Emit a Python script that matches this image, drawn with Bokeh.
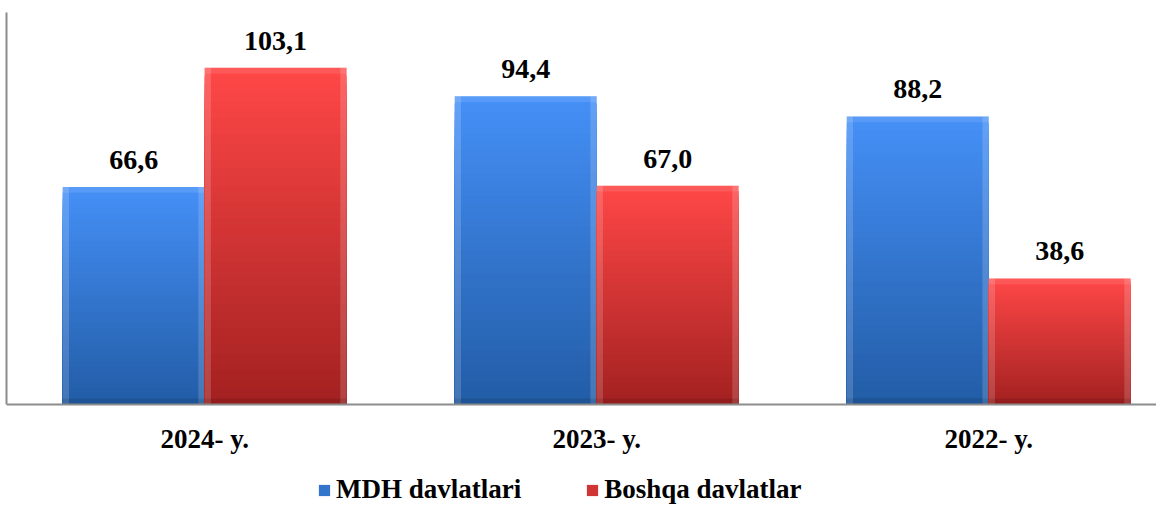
import numpy as np
from bokeh.plotting import figure
from bokeh.models import ColumnDataSource, Range1d, Legend, LegendItem, Span
from bokeh.core.properties import value
from bokeh.embed import file_html
from bokeh.resources import INLINE

# ---- data ----
categories = ["2024- y.", "2023- y.", "2022- y."]
mdh = [66.6, 94.4, 88.2]
boshqa = [103.1, 67.0, 38.6]
series_names = ["MDH davlatlari", "Boshqa davlatlar"]

# ---- styles ----
FONT = value("Liberation Serif")
BLUE_TOP, BLUE_BOT = (0x45, 0x90, 0xF7), (0x22, 0x5C, 0xA6)
RED_TOP, RED_BOT = (0xFF, 0x47, 0x47), (0xA3, 0x21, 0x21)
N = 40
BAR_W = 0.362
OFF = 0.181

# frame extends below the baseline to leave room for category labels and legend
p = figure(frame_width=1150, frame_height=493, output_backend="svg",
           toolbar_location=None, x_axis_location=None,
           x_range=Range1d(-0.0054, 2.928), y_range=Range1d(-30.92, 120),
           min_border_left=0, min_border_right=0, min_border_top=12,
           min_border_bottom=0)
p.outline_line_color = None
p.xgrid.visible = False
p.ygrid.visible = False
p.background_fill_color = "white"
p.border_fill_color = "white"

centers = np.arange(len(categories)) + 0.5


def hexc(rgb):
    return "#%02x%02x%02x" % tuple(int(round(c)) for c in rgb)


def gradient_bars(vals, dx, top_rgb, bot_rgb):
    xs, tops, cols = [], [], []
    # tallest slice first, each shorter slice painted over it -> no seams
    for k in range(N - 1, -1, -1):
        f = (k + 0.5) / N
        col = hexc([b + (t - b) * f for t, b in zip(top_rgb, bot_rgb)])
        for i, v in enumerate(vals):
            xs.append(centers[i] + dx)
            tops.append(v * (k + 1) / N)
            cols.append(col)
    src = ColumnDataSource(dict(x=xs, top=tops, color=cols))
    r = p.vbar(x="x", bottom=0, top="top", width=BAR_W, source=src,
               fill_color="color", line_color=None)
    # bevel highlights
    xv = centers + dx
    edge = 0.016
    p.vbar(x=xv - BAR_W / 2 + edge / 2, bottom=0, top=vals, width=edge,
           fill_color="white", fill_alpha=0.16, line_color=None)
    p.vbar(x=xv + BAR_W / 2 - edge / 2, bottom=0, top=vals, width=edge,
           fill_color="white", fill_alpha=0.16, line_color=None)
    p.vbar(x=xv, bottom=np.array(vals) - 1.8, top=vals, width=BAR_W,
           fill_color="white", fill_alpha=0.10, line_color=None)
    p.vbar(x=xv, bottom=0, top=1.8, width=BAR_W,
           fill_color="black", fill_alpha=0.10, line_color=None)
    labels = [f"{v:.1f}".replace(".", ",") for v in vals]
    p.text(x=xv, y=vals, text=labels, text_align="center",
           text_baseline="alphabetic", y_offset=-27, text_font=FONT,
           text_font_style="bold", text_font_size="28px", text_color="black")
    return r


r_m = gradient_bars(mdh, -OFF, BLUE_TOP, BLUE_BOT)
r_b = gradient_bars(boshqa, OFF, RED_TOP, RED_BOT)

# baseline (category axis line) and category labels
p.add_layout(Span(location=0, dimension="width", line_color="#8c8c8c",
                  line_width=2))
p.text(x=centers, y=[0] * len(categories), text=categories, text_align="center",
       text_baseline="middle", y_offset=35, text_font=FONT,
       text_font_style="bold", text_font_size="27px", text_color="black")

# value axis: line only, from 0 to top
p.yaxis.bounds = (0, 120)
p.yaxis.major_label_text_alpha = 0
p.yaxis.major_label_text_font_size = "1px"
p.yaxis.major_label_standoff = 0
p.yaxis.major_tick_line_color = None
p.yaxis.minor_tick_line_color = None
p.yaxis.axis_line_color = "#8c8c8c"
p.yaxis.axis_line_width = 2

legend = Legend(items=[LegendItem(label=series_names[0], renderers=[r_m], index=len(mdh) * N // 2),
                       LegendItem(label=series_names[1], renderers=[r_b], index=len(boshqa) * N // 2)],
                orientation="horizontal", location=(311, 0),
                glyph_width=14, glyph_height=14, label_standoff=5, spacing=64,
                padding=0, margin=0, border_line_color=None,
                background_fill_alpha=0,
                label_text_font="Liberation Serif", label_text_font_style="bold",
                label_text_font_size="27px", label_text_color="black")
p.add_layout(legend)

open("out.html", "w").write(file_html(p, INLINE))
